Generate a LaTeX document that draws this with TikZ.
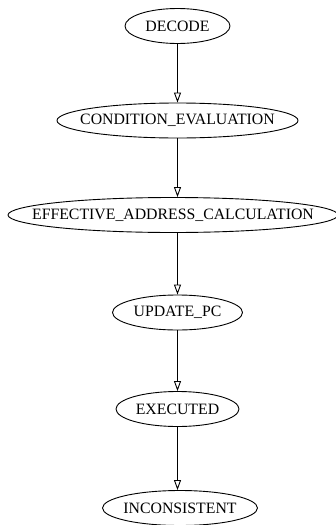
\documentclass[tikz,border=0pt]{standalone}
\usepackage{fontspec}
\setmainfont{Liberation Serif}
\usetikzlibrary{shapes.geometric,arrows.meta}
\begin{document}
\begin{tikzpicture}[x=1pt,y=-1pt,
  st/.style={draw, ellipse, line width=0.9pt, inner sep=0pt, minimum height=35pt,
    font=\fontsize{15.8}{18}\selectfont},
  arr/.style={draw, line width=0.9pt, -{Triangle[open,length=10pt,width=7pt]}}]
\useasboundingbox (0,0) rectangle (336,525);
\node[st, minimum width=105pt] (dec) at (177.5,26) {\makebox[0pt]{DECODE}};
\node[st, minimum width=241pt] (cond) at (177.5,120.5) {\makebox[0pt]{CONDITION\_EVALUATION}};
\node[st, minimum width=330pt] (eff) at (173,215) {\makebox[0pt]{EFFECTIVE\_ADDRESS\_CALCULATION}};
\node[st, minimum width=130pt] (upd) at (177.5,312.5) {\makebox[0pt]{UPDATE\_PC}};
\node[st, minimum width=123pt] (exe) at (177.5,409) {\makebox[0pt]{EXECUTED}};
\node[st, minimum width=155pt] (inc) at (180,508) {\makebox[0pt]{INCONSISTENT}};
\draw[arr] (dec) -- (cond);
\draw[arr] (cond) -- (cond |- eff.north);
\draw[arr] (upd |- eff.south) -- (upd);
\draw[arr] (upd) -- (exe);
\draw[arr] (exe) -- (exe |- inc.north);
\end{tikzpicture}
\end{document}
